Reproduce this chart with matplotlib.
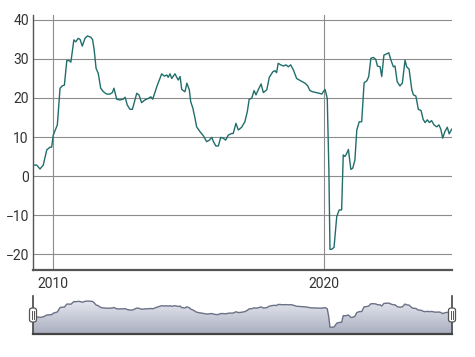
import numpy as np
import matplotlib
matplotlib.use("Agg")
import matplotlib.pyplot as plt
from matplotlib.patches import FancyBboxPatch

years = [2009.27, 2009.40, 2009.52, 2009.64, 2009.77, 2009.89, 2009.95, 2010.01, 2010.16, 2010.26,
         2010.34, 2010.42, 2010.51, 2010.59, 2010.66, 2010.77, 2010.84, 2010.93, 2011.00, 2011.08,
         2011.18, 2011.27, 2011.39, 2011.46, 2011.52, 2011.59, 2011.67, 2011.76, 2011.86, 2011.98,
         2012.10, 2012.19, 2012.25, 2012.35, 2012.47, 2012.59, 2012.66, 2012.74, 2012.84, 2012.93,
         2013.09, 2013.17, 2013.27, 2013.39, 2013.52, 2013.61, 2013.68, 2013.83, 2014.01, 2014.11,
         2014.20, 2014.25, 2014.32, 2014.38, 2014.50, 2014.62, 2014.69, 2014.75, 2014.87, 2014.94,
         2015.03, 2015.08, 2015.16, 2015.24, 2015.30, 2015.42, 2015.55, 2015.67, 2015.77, 2015.86,
         2015.92, 2016.01, 2016.10, 2016.19, 2016.28, 2016.37, 2016.47, 2016.59, 2016.65, 2016.75,
         2016.84, 2016.96, 2017.08, 2017.17, 2017.24, 2017.33, 2017.42, 2017.49, 2017.58, 2017.68,
         2017.76, 2017.89, 2017.98, 2018.11, 2018.19, 2018.25, 2018.31, 2018.40, 2018.50, 2018.60,
         2018.68, 2018.77, 2018.87, 2018.99, 2019.14, 2019.30, 2019.40, 2019.48, 2019.58, 2019.70,
         2019.83, 2019.92, 2019.97, 2020.04, 2020.12, 2020.18, 2020.22, 2020.28, 2020.37, 2020.47,
         2020.56, 2020.65, 2020.71, 2020.77, 2020.84, 2020.90, 2020.99, 2021.06, 2021.14, 2021.21,
         2021.30, 2021.39, 2021.48, 2021.58, 2021.65, 2021.73, 2021.82, 2021.91, 2021.97, 2022.07,
         2022.13, 2022.21, 2022.31, 2022.39, 2022.47, 2022.56, 2022.62, 2022.70, 2022.80, 2022.89,
         2022.99, 2023.05, 2023.14, 2023.24, 2023.30, 2023.39, 2023.48, 2023.58, 2023.66, 2023.73,
         2023.81, 2023.89, 2023.97, 2024.06, 2024.16, 2024.24, 2024.31, 2024.38, 2024.46, 2024.55,
         2024.62, 2024.71]

values = [2.8, 2.8, 1.8, 2.8, 6.7, 7.4, 7.4, 10.5, 13.1, 22.5,
          23.1, 23.3, 29.6, 29.6, 29.2, 34.9, 34.4, 35.3, 35.0, 33.3,
          35.3, 35.9, 35.6, 35.0, 32.3, 27.6, 26.3, 22.5, 21.6, 21.0,
          21.0, 21.4, 22.5, 19.7, 19.5, 19.7, 20.2, 18.2, 17.1, 17.1,
          21.2, 20.8, 18.8, 19.5, 19.9, 20.3, 19.7, 22.9, 26.2, 25.6,
          25.9, 25.3, 26.2, 25.0, 26.2, 24.6, 25.5, 22.2, 21.6, 23.8,
          22.1, 19.1, 17.4, 14.8, 12.6, 11.4, 10.3, 8.8, 9.2, 9.9,
          8.8, 7.7, 7.7, 9.9, 9.7, 9.2, 10.5, 10.9, 10.9, 13.5,
          11.8, 12.5, 13.9, 16.5, 19.7, 19.9, 21.9, 20.8, 22.2, 23.6,
          21.4, 22.1, 25.3, 26.7, 27.0, 26.5, 28.9, 28.5, 28.2, 28.5,
          28.0, 28.5, 27.2, 25.0, 24.4, 23.8, 23.1, 21.9, 21.6, 21.4,
          21.2, 21.0, 21.6, 22.2, 19.9, 1.5, -18.8, -18.8, -18.3, -10.4,
          -8.7, -8.7, 5.4, 5.0, 5.8, 6.8, 1.7, 2.0, 4.1, 11.8,
          13.9, 13.9, 23.9, 24.4, 25.5, 30.2, 30.4, 29.9, 28.2, 28.0,
          25.5, 31.0, 31.3, 31.6, 29.7, 28.0, 28.2, 24.2, 23.1, 23.8,
          29.7, 28.0, 27.4, 22.1, 20.8, 20.5, 17.1, 16.8, 14.5, 13.7,
          14.4, 13.7, 14.2, 13.1, 12.6, 13.1, 12.0, 9.7, 11.4, 12.5,
          10.8, 12.0]

y_ticks = [-20, -10, 0, 10, 20, 30, 40]
x_ticks = [2010, 2020]
x_tick_labels = ["2010", "2020"]

W, H = 475, 357
fig = plt.figure(figsize=(W / 100, H / 100), dpi=100)
fig.patch.set_facecolor("white")

def fx(px):
    return px / W

def fy(py):
    return 1 - py / H

xmin, xmax = 2009.262, 2024.723
left, right = 33, 452

# Main chart
ax = fig.add_axes([fx(left), fy(270), fx(right - left), (270 - 15) / H])
ax.plot(years, values, color="#1f6e6b", lw=1.0, zorder=3)
ax.set_xlim(xmin, xmax)
ax.set_ylim(-24.1, 41.28)
ax.set_yticks(y_ticks)
ax.set_xticks(x_ticks)
ax.set_xticklabels(x_tick_labels)
for v in y_ticks:
    ax.axhline(v, color="#8c8c8c", lw=0.8, zorder=1)
for v in x_ticks:
    ax.axvline(v, color="#8c8c8c", lw=0.8, zorder=1)
for s in ["top", "right"]:
    ax.spines[s].set_visible(False)
ax.spines["left"].set_color("#555555")
ax.spines["left"].set_linewidth(1.0)
ax.spines["bottom"].set_color("#555555")
ax.spines["bottom"].set_linewidth(1.6)
ax.tick_params(axis="both", length=0, labelsize=10, colors="#333333")
ax.tick_params(axis="y", pad=3)
ax.tick_params(axis="x", pad=5)
for lab in ax.get_xticklabels() + ax.get_yticklabels():
    lab.set_fontfamily("Roboto")

# Navigator
nav = fig.add_axes([fx(left), fy(334), fx(right - left), (334 - 296) / H])
nav.set_xlim(xmin, xmax)
nmin, nmax = -33.0, 46.5
nav.set_ylim(nmin, nmax)
poly = nav.fill_between(years, values, nmin, color="none", lw=0)
grad = np.linspace(0, 1, 256).reshape(-1, 1)
from matplotlib.colors import LinearSegmentedColormap
cmap = LinearSegmentedColormap.from_list("g", ["#a9aebf", "#e6e8ef"])
im = nav.imshow(grad, aspect="auto", cmap=cmap, origin="lower",
                extent=[xmin, xmax, nmin, 36.5], zorder=1)
im.set_clip_path(poly.get_paths()[0], transform=nav.transData)
nav.plot(years, values, color="#6b7186", lw=1.0, zorder=2)
nav.set_xticks([])
nav.set_yticks([])
for s in ["top", "right", "left"]:
    nav.spines[s].set_visible(False)
nav.spines["bottom"].set_color("#444444")
nav.spines["bottom"].set_linewidth(1.6)

# handles
for hx in [left, right]:
    fig.add_artist(plt.Line2D([fx(hx), fx(hx)], [fy(296), fy(334)],
                              color="#444444", lw=1.2, transform=fig.transFigure))
    bw, bh = 7, 14
    fig.add_artist(FancyBboxPatch((fx(hx - bw / 2), fy(315 + bh / 2)), fx(bw), bh / H,
                                  boxstyle="round,pad=0,rounding_size=0.006",
                                  facecolor="white", edgecolor="#555555", lw=0.9,
                                  transform=fig.transFigure, zorder=5))
    for dx in (-1.2, 1.2):
        fig.add_artist(plt.Line2D([fx(hx + dx), fx(hx + dx)], [fy(311), fy(319)],
                                  color="#555555", lw=0.7, transform=fig.transFigure,
                                  zorder=6))

fig.savefig("out.png", dpi=100)
